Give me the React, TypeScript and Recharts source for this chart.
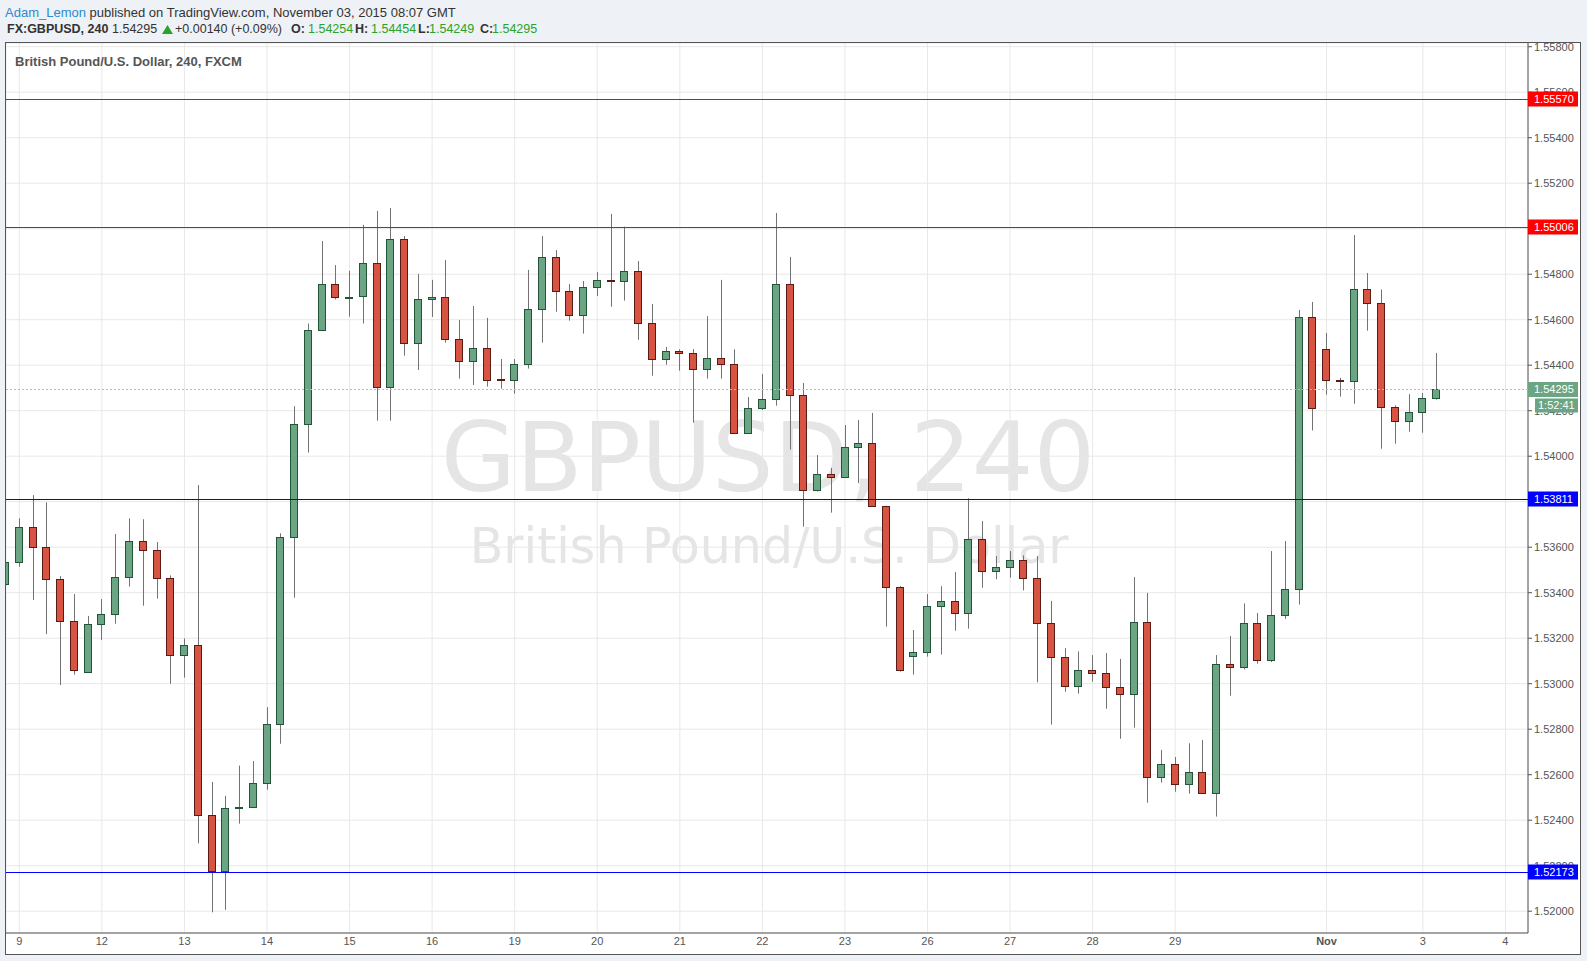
import React from 'react';
import { Bar, CartesianGrid, ComposedChart, ReferenceLine, XAxis, YAxis } from 'recharts';

// 4h candles, first one (index -1) is half cut by the left edge
const opens = [
  1.53437,
  1.53533, 1.53687, 1.53599, 1.53459, 1.53274, 1.53050, 1.53261, 1.53305, 1.53468, 1.53626,
  1.53586, 1.53463, 1.53125, 1.53169, 1.52422, 1.52175, 1.52454, 1.52456, 1.52562, 1.52825,
  1.53643, 1.54140, 1.54554, 1.54756, 1.54699, 1.54703, 1.54848, 1.54303, 1.54953, 1.54496,
  1.54690, 1.54698, 1.54514, 1.54417, 1.54474, 1.54338, 1.54334, 1.54405, 1.54647, 1.54874,
  1.54725, 1.54619, 1.54742, 1.54773, 1.54769, 1.54813, 1.54584, 1.54426, 1.54461, 1.54452,
  1.54382, 1.54430, 1.54404, 1.54101, 1.54210, 1.54250, 1.54755, 1.54268, 1.53850, 1.53920,
  1.53907, 1.54039, 1.54057, 1.53780, 1.53424, 1.53120, 1.53138, 1.53340, 1.53362, 1.53309,
  1.53635, 1.53494, 1.53512, 1.53542, 1.53463, 1.53265, 1.53116, 1.52988, 1.53059, 1.53046,
  1.52984, 1.52953, 1.53270, 1.52588, 1.52646, 1.52558, 1.52610, 1.52518, 1.53085, 1.53072,
  1.53265, 1.53103, 1.53301, 1.53415, 1.54611, 1.54470, 1.54337, 1.54329, 1.54733, 1.54672,
  1.54215, 1.54153, 1.54193, 1.54254,
];

const highs = [
  1.53560,
  1.53727, 1.53829, 1.53797, 1.53473, 1.53394, 1.53298, 1.53372, 1.53658, 1.53727, 1.53723,
  1.53623, 1.53476, 1.53199, 1.53873, 1.52568, 1.52507, 1.52640, 1.52660, 1.52897, 1.53661,
  1.54220, 1.54583, 1.54946, 1.54840, 1.54815, 1.55017, 1.55078, 1.55091, 1.54968, 1.54801,
  1.54775, 1.54862, 1.54599, 1.54660, 1.54608, 1.54427, 1.54427, 1.54819, 1.54968, 1.54906,
  1.54757, 1.54770, 1.54810, 1.55065, 1.55009, 1.54858, 1.54669, 1.54480, 1.54470, 1.54471,
  1.54616, 1.54775, 1.54470, 1.54260, 1.54361, 1.55069, 1.54876, 1.54322, 1.54005, 1.53948,
  1.54137, 1.54159, 1.54190, 1.53782, 1.53429, 1.53236, 1.53394, 1.53429, 1.53491, 1.53815,
  1.53715, 1.53561, 1.53583, 1.53564, 1.53561, 1.53364, 1.53156, 1.53142, 1.53126, 1.53135,
  1.53109, 1.53469, 1.53399, 1.52709, 1.52678, 1.52738, 1.52753, 1.53126, 1.53210, 1.53353,
  1.53311, 1.53583, 1.53627, 1.54643, 1.54678, 1.54542, 1.54344, 1.54972, 1.54805, 1.54733,
  1.54224, 1.54273, 1.54278, 1.54454,
];

const lows = [
  1.53400,
  1.53514, 1.53368, 1.53218, 1.52994, 1.53040, 1.53048, 1.53192, 1.53264, 1.53427, 1.53343,
  1.53374, 1.53000, 1.53027, 1.52298, 1.51995, 1.52006, 1.52385, 1.52453, 1.52534, 1.52736,
  1.53378, 1.54016, 1.54550, 1.54689, 1.54614, 1.54583, 1.54156, 1.54156, 1.54442, 1.54379,
  1.54612, 1.54499, 1.54341, 1.54313, 1.54306, 1.54297, 1.54275, 1.54385, 1.54499, 1.54635,
  1.54596, 1.54539, 1.54704, 1.54657, 1.54684, 1.54512, 1.54354, 1.54402, 1.54376, 1.54147,
  1.54341, 1.54341, 1.54099, 1.54099, 1.54203, 1.54222, 1.54029, 1.53690, 1.53845, 1.53752,
  1.53904, 1.53882, 1.53777, 1.53251, 1.53053, 1.53040, 1.53119, 1.53128, 1.53233, 1.53242,
  1.53422, 1.53459, 1.53466, 1.53410, 1.53006, 1.52820, 1.52965, 1.52956, 1.53009, 1.52890,
  1.52758, 1.52807, 1.52477, 1.52565, 1.52525, 1.52517, 1.52516, 1.52416, 1.52947, 1.53063,
  1.53088, 1.53095, 1.53285, 1.53348, 1.54113, 1.54270, 1.54262, 1.54231, 1.54552, 1.54033,
  1.54055, 1.54108, 1.54103, 1.54249,
];

const closes = [
  1.53534,
  1.53687, 1.53599, 1.53459, 1.53274, 1.53059, 1.53261, 1.53305, 1.53468, 1.53626, 1.53586,
  1.53463, 1.53125, 1.53169, 1.52422, 1.52175, 1.52452, 1.52458, 1.52562, 1.52825, 1.53643,
  1.54140, 1.54554, 1.54756, 1.54699, 1.54702, 1.54848, 1.54303, 1.54953, 1.54496, 1.54690,
  1.54698, 1.54514, 1.54417, 1.54474, 1.54334, 1.54335, 1.54405, 1.54647, 1.54874, 1.54725,
  1.54619, 1.54742, 1.54773, 1.54770, 1.54813, 1.54584, 1.54426, 1.54461, 1.54452, 1.54382,
  1.54430, 1.54404, 1.54101, 1.54210, 1.54250, 1.54755, 1.54268, 1.53850, 1.53920, 1.53907,
  1.54039, 1.54057, 1.53780, 1.53424, 1.53059, 1.53138, 1.53340, 1.53362, 1.53309, 1.53635,
  1.53494, 1.53512, 1.53542, 1.53463, 1.53265, 1.53116, 1.52988, 1.53059, 1.53046, 1.52984,
  1.52953, 1.53270, 1.52588, 1.52646, 1.52558, 1.52610, 1.52518, 1.53085, 1.53072, 1.53265,
  1.53103, 1.53301, 1.53415, 1.54611, 1.54210, 1.54337, 1.54329, 1.54733, 1.54672, 1.54215,
  1.54153, 1.54193, 1.54254, 1.54295,
];

// session labels on the time axis (candle index -> text)
const dayTicks = [0, 6, 12, 18, 24, 30, 36, 42, 48, 54, 60, 66, 72, 78, 84, 95, 102, 108];
const dayLabels = ['9', '12', '13', '14', '15', '16', '19', '20', '21', '22', '23', '26', '27', '28', '29', 'Nov', '3', '4'];

const priceTicks = [
  1.520, 1.522, 1.524, 1.526, 1.528, 1.530, 1.532, 1.534, 1.536, 1.538,
  1.540, 1.542, 1.544, 1.546, 1.548, 1.550, 1.552, 1.554, 1.556, 1.558,
];

// horizontal levels drawn by the author
const levelPrices = [1.5557, 1.55006, 1.53811, 1.52173];
const levelColors = ['#ff0000', '#ff0000', '#0000ff', '#0000ff'];

const lastPrice = 1.54295;
const countdown = '1:52:41';

const FONT = '"Liberation Sans", Arial, Helvetica, sans-serif';
const UP = '#6ba583';
const UP_BORDER = '#225437';
const DOWN = '#d75442';
const DOWN_BORDER = '#5b1a13';
const WICK = '#737375';

const candles = opens.map((o, k) => ({ i: k - 1, o, h: highs[k], l: lows[k], c: closes[k] }));

const Candle = (props: any) => {
  const { x, y, width, height, payload } = props;
  if (!payload || height == null) return null;
  const { o, h, l, c } = payload;
  const top = Math.min(y, y + height);
  const k = Math.abs(height) / (h - l);
  const py = (v: number) => top + (h - v) * k;
  const left = Math.round(x + width / 2 - 4);
  const up = c >= o;
  const bTop = Math.round(py(Math.max(o, c)));
  const bBot = Math.round(py(Math.min(o, c)));
  return (
    <g>
      <line x1={left + 4.5} x2={left + 4.5} y1={py(h)} y2={py(l)} stroke={WICK} strokeWidth={1} />
      <rect
        x={left + 0.5}
        y={bTop + 0.5}
        width={7}
        height={Math.max(bBot - bTop, 1)}
        fill={up ? UP : DOWN}
        stroke={up ? UP_BORDER : DOWN_BORDER}
        strokeWidth={1}
      />
    </g>
  );
};

const DayTick = (props: any) => {
  const { x, y, payload } = props;
  const label = dayLabels[dayTicks.indexOf(payload.value)];
  return (
    <text
      x={x}
      y={y}
      dy="0.71em"
      textAnchor="middle"
      fill="#555"
      fontSize={11}
      fontFamily={FONT}
      fontWeight={label === 'Nov' ? 'bold' : 'normal'}
    >
      {label}
    </text>
  );
};

// level line + price tag on the axis
const levelShape = (color: string, text: string) => (p: any) => {
  const xl = Math.min(p.x1, p.x2);
  const xr = Math.max(p.x1, p.x2);
  const yy = Math.round(p.y1) + 0.5;
  return (
    <g>
      <line x1={xl} x2={xr} y1={yy} y2={yy} stroke={color} strokeWidth={1} />
      <rect x={xr} y={yy - 8} width={50} height={15} fill={color} />
      <text x={xr + 6} y={yy} dy="0.35em" fill="#fff" fontSize={11} fontFamily={FONT}>{text}</text>
    </g>
  );
};

const lastShape = (p: any) => {
  const xl = Math.min(p.x1, p.x2);
  const xr = Math.max(p.x1, p.x2);
  const yy = Math.round(p.y1) + 0.5;
  return (
    <g>
      <line x1={xl} x2={xr} y1={yy} y2={yy} stroke="#a3c9b3" strokeWidth={1} strokeDasharray="2 2" />
      <rect x={xr} y={yy - 7.5} width={50} height={15} fill={UP} />
      <text x={xr + 6} y={yy} dy="0.35em" fill="#fff" fontSize={11} fontFamily={FONT}>{lastPrice.toFixed(5)}</text>
      <rect x={xr + 7} y={yy + 9} width={43} height={14} fill={UP} />
      <text x={xr + 10} y={yy + 16} dy="0.35em" fill="#fff" fontSize={11} fontFamily={FONT}>{countdown}</text>
    </g>
  );
};

const abs = (left: number, top: number, extra: any = {}) => ({
  position: 'absolute' as const,
  left,
  top,
  whiteSpace: 'nowrap' as const,
  lineHeight: '15px',
  ...extra,
});

export default function App() {
  const green = '#29a329';
  return (
    <div
      style={{
        position: 'absolute',
        left: 0,
        top: 0,
        width: 1587,
        height: 961,
        background: '#eef1f5',
        fontFamily: FONT,
        overflow: 'hidden',
        color: '#333',
      }}
    >
      {/* header */}
      <div style={abs(5, 4.5, { fontSize: 13 })}>
        <span style={{ color: '#2b8ad0' }}>Adam_Lemon</span> published on TradingView.com, November 03, 2015 08:07 GMT
      </div>
      <div style={abs(7, 22, { fontSize: 12.5, fontWeight: 'bold' })}>FX:GBPUSD, 240</div>
      <div style={abs(112, 22, { fontSize: 12.5 })}>1.54295</div>
      <svg style={{ position: 'absolute', left: 162, top: 25 }} width={11} height={9}>
        <polygon points="0,9 5.5,0 11,9" fill={green} />
      </svg>
      <div style={abs(175, 22, { fontSize: 12.5 })}>+0.00140 (+0.09%)</div>
      <div style={abs(291, 22, { fontSize: 12.5, fontWeight: 'bold' })}>O:</div>
      <div style={abs(308, 22, { fontSize: 12.5, color: green })}>1.54254</div>
      <div style={abs(355, 22, { fontSize: 12.5, fontWeight: 'bold' })}>H:</div>
      <div style={abs(371, 22, { fontSize: 12.5, color: green })}>1.54454</div>
      <div style={abs(418, 22, { fontSize: 12.5, fontWeight: 'bold' })}>L:</div>
      <div style={abs(429, 22, { fontSize: 12.5, color: green })}>1.54249</div>
      <div style={abs(480, 22, { fontSize: 12.5, fontWeight: 'bold' })}>C:</div>
      <div style={abs(492, 22, { fontSize: 12.5, color: green })}>1.54295</div>

      {/* chart panel */}
      <div
        style={{
          position: 'absolute',
          left: 5,
          top: 42,
          width: 1574,
          height: 911,
          border: '1px solid #555',
          background: '#fff',
        }}
      >
        <svg style={{ position: 'absolute', left: 0, top: 0 }} width={1522} height={890}>
          <text x={762} y={447.5} textAnchor="middle" fontSize={97} fill="#e5e5e5" fontFamily='"DejaVu Sans", Verdana, sans-serif'>
            GBPUSD, 240
          </text>
          <text x={763} y={519.5} textAnchor="middle" fontSize={49} fill="#e5e5e5" fontFamily='"DejaVu Sans", Verdana, sans-serif'>
            British Pound/U.S. Dollar
          </text>
        </svg>

        <div style={{ position: 'absolute', left: 0, top: 0 }}>
          <ComposedChart width={1574} height={911} data={candles} margin={{ top: 0, right: 0, bottom: 0, left: 0 }}>
            <CartesianGrid stroke="#e8e8e8" />
            <XAxis
              dataKey="i"
              type="number"
              domain={[-0.967, 109.64]}
              allowDataOverflow
              ticks={dayTicks}
              interval={0}
              tick={<DayTick />}
              tickLine={false}
              tickSize={0}
              tickMargin={4}
              height={21}
              axisLine={{ stroke: '#555' }}
            />
            <YAxis
              orientation="right"
              type="number"
              domain={[1.519042, 1.558163]}
              allowDataOverflow
              ticks={priceTicks}
              interval={0}
              tickFormatter={(v: number) => v.toFixed(5)}
              width={52}
              tick={{ fill: '#555', fontSize: 11, fontFamily: FONT }}
              tickLine={{ stroke: '#555' }}
              tickSize={4}
              tickMargin={2}
              axisLine={{ stroke: '#555' }}
            />
            <Bar
              dataKey={(d: any) => [d.l, d.h]}
              barSize={9}
              shape={(p: any) => <Candle {...p} />}
              isAnimationActive={false}
            />
            <ReferenceLine y={lastPrice} shape={lastShape} zIndex={2000} />
            {levelPrices.map((v, k) => (
              <ReferenceLine key={k} y={v} shape={levelShape(levelColors[k], v.toFixed(5))} zIndex={2000} />
            ))}
          </ComposedChart>
        </div>

        <div style={abs(9, 11, { fontSize: 13, fontWeight: 'bold', color: '#555' })}>
          British Pound/U.S. Dollar, 240, FXCM
        </div>
      </div>
    </div>
  );
}
